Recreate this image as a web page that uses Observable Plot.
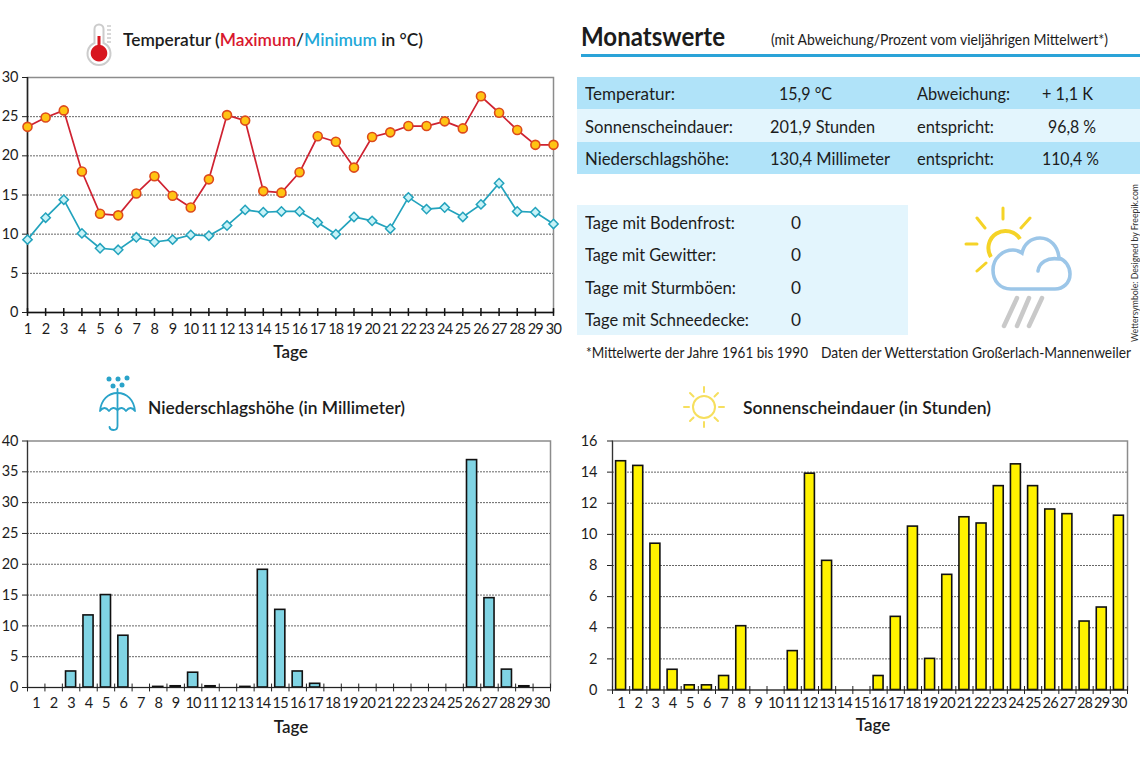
<!DOCTYPE html>
<html lang="de">
<head>
<meta charset="utf-8">
<script src="https://cdn.jsdelivr.net/npm/d3@7"></script>
<script src="https://cdn.jsdelivr.net/npm/@observablehq/plot@0.6"></script>
<style>
html,body{margin:0;padding:0;background:#fff;}
#page{position:relative;width:1140px;height:760px;overflow:hidden;font-family:Lato,sans-serif;color:#1c1c1c;}
#page svg.chart{position:absolute;overflow:visible;}
.lbl{position:absolute;white-space:nowrap;transform-origin:0 50%;line-height:1;}
.band{position:absolute;}
svg.chart [aria-label="x-axis label"] text{font-size:17px;font-weight:600;}
svg.chart [aria-label="x-axis tick label"] text{letter-spacing:-0.7px;}
</style>
</head>
<body>
<div id="page"></div>
<script>
const days = d3.range(1, 31);
const tempMax = [23.7,24.9,25.8,18,12.6,12.4,15.2,17.4,14.9,13.4,17,25.2,24.5,15.5,15.3,17.9,22.5,21.8,18.5,22.4,23,23.8,23.8,24.4,23.5,27.6,25.5,23.3,21.4,21.4];
const tempMin = [9.3,12.1,14.4,10.1,8.2,8,9.6,9,9.3,9.9,9.8,11.1,13.1,12.8,12.9,12.9,11.5,10,12.2,11.7,10.7,14.7,13.2,13.4,12.2,13.8,16.5,12.9,12.8,11.3];
const rain = [0,0,2.6,11.7,15,8.4,0,0.1,0.2,2.4,0.2,0,0.1,19.1,12.6,2.6,0.6,0,0,0,0,0,0,0,0,36.9,14.5,2.9,0.2,0];
const sun = [14.7,14.4,9.4,1.3,0.3,0.3,0.9,4.1,0,0,2.5,13.9,8.3,0,0,0.9,4.7,10.5,2,7.4,11.1,10.7,13.1,14.5,13.1,11.6,11.3,4.4,5.3,11.2];
const tempTicks = [0,5,10,15,20,25,30];
const rainTicks = [0,5,10,15,20,25,30,35,40];
const sunTicks = [0,2,4,6,8,10,12,14,16];

const monthRows = [
  ["Temperatur:","15,9 °C","Abweichung:","+ 1,1 K"],
  ["Sonnenscheindauer:","201,9 Stunden","entspricht:","96,8 %"],
  ["Niederschlagshöhe:","130,4 Millimeter","entspricht:","110,4 %"]
];
const dayRows = [["Tage mit Bodenfrost:","0"],["Tage mit Gewitter:","0"],["Tage mit Sturmböen:","0"],["Tage mit Schneedecke:","0"]];

const page = document.getElementById("page");
const ink = "#1c1c1c", gridInk = "#555", frameInk = "#8c8c8c";

function place(svg, left, top, labelShift){
  svg.classList.add("chart");
  svg.style.left = left + "px";
  svg.style.top = top + "px";
  svg.style.background = "transparent";
  const label = svg.querySelector('[aria-label="x-axis label"] text');
  if (label) label.setAttribute("dx", labelShift);
  page.appendChild(svg);
}
function axes(ticks, tickPadX, labelOffset, tickPadY){
  return [
    Plot.axisY(ticks, {tickSize:5, tickPadding:tickPadY, fontSize:14.5, stroke:"#222", color:ink, label:null, strokeWidth:1}),
    Plot.axisX(days, {tickSize:0, tickPadding:tickPadX, fontSize:14.5, color:ink, tickFormat:"d", label:"Tage", labelAnchor:"center", labelArrow:"none", labelOffset})
  ];
}
function grid(ticks){
  return Plot.ruleY(ticks.slice(1,-1), {stroke:gridInk, strokeWidth:0.9, strokeDasharray:"2 1"});
}

/* Temperature */
place(Plot.plot({
  width:570, height:370, marginLeft:27, marginRight:17, marginTop:77, marginBottom:58,
  style:{fontFamily:"Lato,sans-serif"},
  x:{type:"linear", domain:[1,30]}, y:{domain:[0,30]},
  marks:[
    Plot.frame({stroke:frameInk, strokeWidth:1.5}),
    grid(tempTicks),
    Plot.ruleX([1],{stroke:"#222",strokeWidth:1.5}),
    Plot.ruleY([0],{stroke:"#111",strokeWidth:1.6}),
    Plot.ruleX(days,{x:d=>d,y1:-0.5,y2:0.5,stroke:"#111",strokeWidth:1.5}),
    ...axes(tempTicks,11,45,4),
    Plot.line(days,{x:d=>d,y:(d,i)=>tempMin[i],stroke:"#23a3bd",strokeWidth:1.7}),
    Plot.dot(days,{x:d=>d,y:(d,i)=>tempMin[i],symbol:"diamond2",r:4.2,fill:"#c8f3f8",stroke:"#23a3bd",strokeWidth:1.5}),
    Plot.line(days,{x:d=>d,y:(d,i)=>tempMax[i],stroke:"#cf2231",strokeWidth:1.7}),
    Plot.dot(days,{x:d=>d,y:(d,i)=>tempMax[i],r:4.5,fill:"#ffc413",stroke:"#dd4a1c",strokeWidth:1.6})
  ]
}),0,0,0);

/* Bars */
function bars(values, ticks, fill, left, right, top, base, tickPadX, labelOffset, tickPadY, svgLeft, svgTop, labelShift){
  const table = days.map((d,i)=>({day:d,value:values[i]})).filter(d=>d.value>0);
  const edges = d3.range(0.5,31,1);
  const maxTick = ticks[ticks.length-1];
  const height = 760-svgTop;
  place(Plot.plot({
    width:570, height, marginLeft:left-svgLeft, marginRight:svgLeft+570-right, marginTop:top-svgTop, marginBottom:height-(base-svgTop),
    style:{fontFamily:"Lato,sans-serif"},
    x:{type:"linear", domain:[0.5,30.5]}, y:{domain:[0,maxTick]},
    marks:[
      Plot.frame({stroke:frameInk, strokeWidth:1.5}),
      grid(ticks),
      Plot.ruleX([0.5],{stroke:"#333",strokeWidth:1.1}),
      Plot.ruleX(edges,{x:d=>d,y1:-maxTick*0.018,y2:maxTick*0.014,stroke:"#222",strokeWidth:1}),
      ...axes(ticks,tickPadX,labelOffset,tickPadY),
      Plot.rectY(table,{x1:d=>d.day-0.29,x2:d=>d.day+0.29,y:"value",fill,stroke:"#111",strokeWidth:1.6}),
      Plot.ruleY([0],{stroke:"#222",strokeWidth:1.2})
    ]
  }),svgLeft,svgTop,labelShift);
}
bars(rain,rainTicks,"#80d4e4",27,550,440.5,687,10,45,4,0,370,2);
bars(sun,sunTicks,"#fff200",612,1127,440.5,689.5,8,41,10,570,370,3);

/* Panels */
function band(x,y,w,h,c){
  const d=document.createElement("div");d.className="band";
  d.style.cssText=`left:${x}px;top:${y}px;width:${w}px;height:${h}px;background:${c}`;
  page.appendChild(d);
}
band(577,77,563,32,"#b0e3f9");band(577,109,563,33,"#e3f5fd");band(577,142,563,32,"#b0e3f9");
band(577,205,331,130,"#e3f5fd");
band(581,54,559,2.6,"#2aa3d8");

/* Text: x, vertical centre, target width */
const fit=[];
function txt(html,x,y,w,size,weight){
  const d=document.createElement("div");d.className="lbl";d.innerHTML=html;
  d.style.cssText=`left:${x}px;top:${y-size/2-0.3}px;font-size:${size}px;font-weight:${weight||400}`;
  page.appendChild(d);fit.push([d,w]);
}
const red="#d9182e",blue="#1fa8d8";
txt(`Temperatur (<span style="color:${red}">Maximum</span>/<span style="color:${blue}">Minimum</span> in °C)`,123,39,300,18,600);
txt("Monatswerte",581,36,144,26,700);
txt("(mit Abweichung/Prozent vom vieljährigen Mittelwert*)",771,40,337,15);
txt("Niederschlagshöhe (in Millimeter)",148,407,257,18,600);
txt("Sonnenscheindauer (in Stunden)",743,407,248,18,600);
const rowY=[93,126,158];
const colX=[585,[779,770,770],917,[1042,1048,1042]];
const colW=[[90,148,144],[53,105,120],[93,77,77],[51,48,57]];
monthRows.forEach((r,i)=>r.forEach((s,j)=>{
  const x=Array.isArray(colX[j])?colX[j][i]:colX[j];
  txt(s,x,rowY[i],colW[j][i],18);
}));
const dayY=[222,254,287,319],dayW=[150,131,151,164];
dayRows.forEach((r,i)=>{txt(r[0],585,dayY[i],dayW[i],18);txt(r[1],791,dayY[i],10,18);});
txt("*Mittelwerte der Jahre 1961 bis 1990",586,353,222,15);
txt("Daten der Wetterstation Großerlach-Mannenweiler",821,353,310,15);
fit.forEach(([d,w])=>{d.style.transform=`scaleX(${w/d.getBoundingClientRect().width})`;});
const cr=document.createElement("div");cr.className="lbl";cr.textContent="Wettersymbole: Designed by Freepik.com";
cr.style.cssText="left:1135px;top:263px;font-size:8.5px;color:#333";
page.appendChild(cr);
const crW=cr.getBoundingClientRect().width;
cr.style.transformOrigin="0 0";
cr.style.transform=`rotate(-90deg) scaleX(${158/crW}) translate(${-crW/2}px,-4px)`;

/* Decorative icons */
const sunRays=[[704,387,704,392],[704,422,704,427],[684,407,689,407],[719,407,724,407],[690,393,693.5,396.5],[714.5,417.5,718,421],[718,393,714.5,396.5],[693.5,417.5,690,421]];
const icons=document.createElementNS("http://www.w3.org/2000/svg","svg");
icons.setAttribute("width",1140);icons.setAttribute("height",760);
icons.style.cssText="position:absolute;left:0;top:0;pointer-events:none";
icons.innerHTML=`
<g fill="none">
 <path d="M94.500 43V29a4.500 4.500 0 0 1 9 0V43a11.500 11.500 0 1 1-9 0Z" fill="#fff" stroke="#ccc" stroke-width="2"/>
 <path d="M97.500 36h3V45a8.300 8.300 0 1 1-3 0Z" fill="#d8161f"/>
 <path d="M107 26h4M107 30h4M107 34h4M107 38h4M107 42h4" stroke="#ccc" stroke-width="1.3"/>
 <path d="M100 411C101 400 108 393 117.500 393C127 393 134 400 135 411Q130.500 405 126 411Q122 405.500 117.500 410Q113 405.500 109 411Q104.500 405 100 411Z" stroke="#2aa3c9" stroke-width="1.8" stroke-linejoin="round"/>
 <path d="M117.500 389V426q0 4-4 4q-3.500 0-4-3" stroke="#2aa3c9" stroke-width="1.8" stroke-linecap="round"/>
 <circle cx="704" cy="407" r="11" stroke="#f6df5e" stroke-width="2"/>
 <g stroke="#f6df5e" stroke-width="2" stroke-linecap="round">${sunRays.map(r=>`<line x1="${r[0]}" y1="${r[1]}" x2="${r[2]}" y2="${r[3]}"/>`).join("")}</g>
 <path d="M991 257A16.500 16.500 0 1 1 1020 239" stroke="#f5d327" stroke-width="4"/>
 <g stroke="#f5d327" stroke-width="3" stroke-linecap="round"><path d="M1003 208V219M1021 228L1030 218M985 228L977 218M966 244H977M977 271L986 263"/></g>
 <path d="M1011 289C1000 289 993 281 993 270C993 258 1003 250 1013 250C1016 250 1019 251 1022 253C1024 244 1031 238 1040 238C1050 238 1058 246 1059 258C1065 260 1070 266 1070 274C1070 283 1063 289 1055 289Z" fill="#fff" stroke="#9cc6e8" stroke-width="3.6"/>
 <path d="M1038 271C1039 263 1047 257 1059 259" stroke="#9cc6e8" stroke-width="3.6" stroke-linecap="round"/>
 <path d="M1017 298L1004 326M1029 298L1017 326M1042 298L1029 326" stroke="#c9c9c9" stroke-width="4.5" stroke-linecap="round"/>
</g>
<g fill="#2aa3c9"><circle cx="109" cy="379" r="2.500"/><circle cx="118" cy="379" r="2.500"/><circle cx="127" cy="378" r="2.500"/><circle cx="113" cy="386" r="2.500"/><circle cx="122" cy="385" r="2.500"/></g>`;
page.appendChild(icons);
</script>
</body>
</html>
